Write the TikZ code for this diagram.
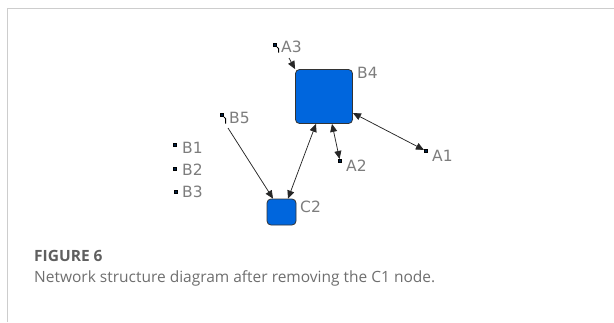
\documentclass[tikz,border=0pt]{standalone}
\usepackage{fontspec}
\setmainfont{Open Sans}
\newfontfamily\labfont{DejaVu Sans}
\usetikzlibrary{arrows.meta}
\definecolor{nodeblue}{RGB}{0,102,221}
\definecolor{labgray}{RGB}{125,125,125}
\definecolor{capgray}{RGB}{110,110,110}
\definecolor{figgray}{RGB}{95,95,95}
\definecolor{framegray}{RGB}{205,205,205}
\tikzset{
  bigbox/.style={draw=black!80, line width=0.8pt, fill=nodeblue, rounded corners=4pt, inner sep=0pt},
  dot/.style={draw=black, line width=0.6pt, fill=black!70!nodeblue, minimum size=3.5pt, inner sep=0pt},
  lab/.style={text=labgray, font=\labfont\fontsize{15.5}{16}\selectfont, anchor=west, inner sep=0pt},
  link/.style={line width=0.75pt, draw=black!85},
  oneway/.style={link, -{Triangle[length=8pt,width=7pt]}},
  twoway/.style={link, {Triangle[length=8pt,width=7pt]}-{Triangle[length=8pt,width=7pt]}},
}
\begin{document}
\begin{tikzpicture}[x=1pt,y=-1pt]
\useasboundingbox (0,0) rectangle (614,322);
% frame
\draw[framegray, line width=1pt] (7,322) -- (7,8) -- (614,8);
% big nodes
\node[bigbox, minimum width=57pt, minimum height=54pt] (B4) at (324,96.5) {};
\node[bigbox, minimum width=29pt, minimum height=26pt] (C2) at (281.5,212) {};
% small nodes
\node[dot] (A3) at (275,45) {};
\node[dot] (B5) at (222,115) {};
\node[dot] (A2) at (340,161) {};
\node[dot] (A1) at (426,151) {};
\node[dot] (B1) at (175,145) {};
\node[dot] (B2) at (175,169) {};
\node[dot] (B3) at (176,192) {};
% hooks (self loops)
\draw[line width=1pt] (A3.south east) -- ++(1.5,1.5) -- ++(0,4);
\draw[line width=1pt] (B5.south east) -- ++(1.5,1.5) -- ++(0,5);
% labels
\node[lab] (lA3) at (281,47) {A3};
\node[lab] (lB4) at (357,73) {B4};
\node[lab] (lB5) at (229,118) {B5};
\node[lab] (lA2) at (346,166) {A2};
\node[lab] (lA1) at (432,156) {A1};
\node[lab] (lB1) at (182,148) {B1};
\node[lab] (lB2) at (182,170) {B2};
\node[lab] (lB3) at (182,192) {B3};
\node[lab] (lC2) at (300,207) {C2};
% connectors
\coordinate (a3s) at (289,58);
\draw[oneway] (a3s) -- (B4.north west);
\coordinate (b5s) at (228,128);
\draw[oneway] (b5s) -- (C2.north west -| 273,0);
\draw[twoway] (C2.north -| 288,0) -- (B4.south -| 316,0);
\draw[twoway] (B4.south -| 332,0) -- (A2);
\draw[twoway] (B4.east |- 0,113) -- (A1);
% caption
\node[anchor=west, inner sep=0pt, text=figgray, font=\fontsize{15.5}{18}\selectfont\bfseries] (fig) at (34,256) {FIGURE 6};
\node[anchor=west, inner sep=0pt, text=capgray, font=\fontsize{15.5}{18}\selectfont] (cap) at (34,278) {Network structure diagram after removing the C1 node.};
\end{tikzpicture}
\end{document}
